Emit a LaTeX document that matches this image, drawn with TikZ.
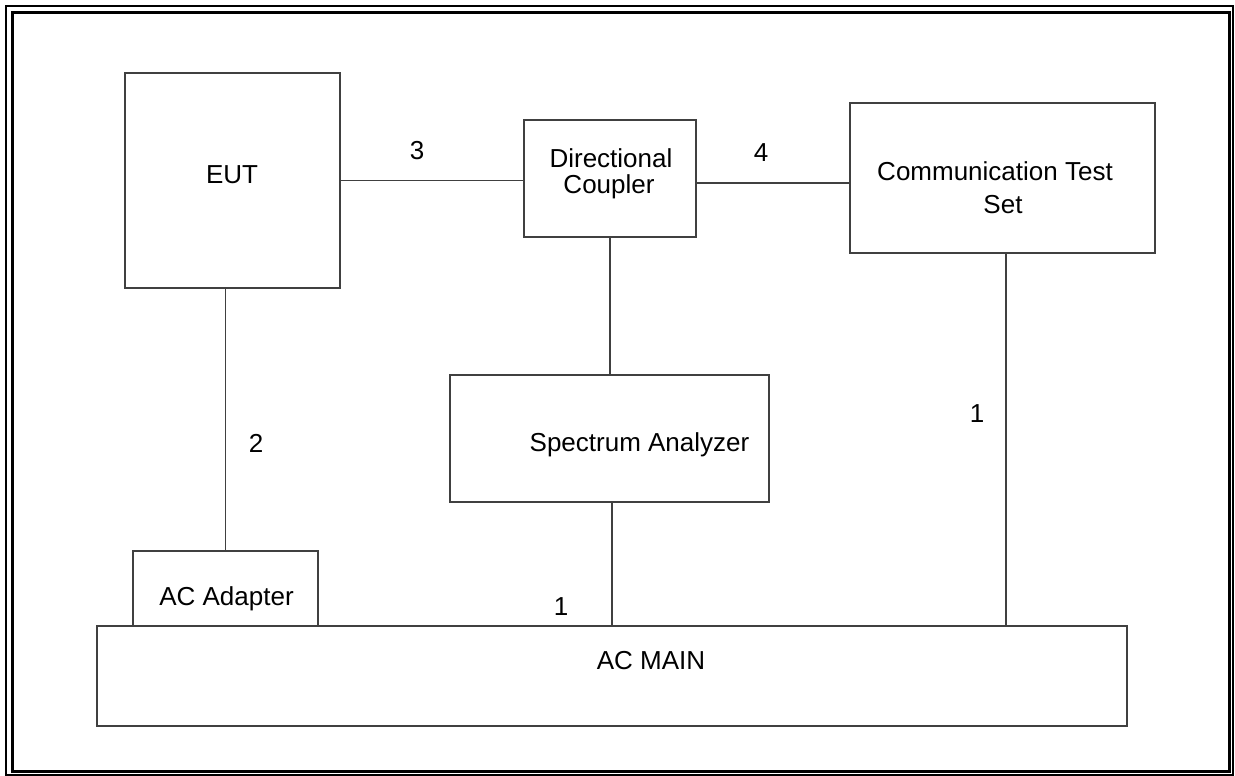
\documentclass[tikz,border=0pt]{standalone}
\usepackage{fontspec}
\setmainfont{Liberation Sans}
\begin{document}
\begin{tikzpicture}[x=1pt,y=-1pt,
  box/.style={draw=black!75, line width=1.3pt, inner sep=0pt, anchor=center},
  txt/.style={font=\fontsize{26}{30}\selectfont, inner sep=0pt, anchor=base},
  wire/.style={draw=black!75, line width=1.3pt}]
\useasboundingbox (0,0) rectangle (1235,776);
% page border
\draw[line width=2pt] (6,6) rectangle (1232.5,774.5);
\draw[line width=3pt] (12.5,12.5) rectangle (1229.5,771.5);
% boxes
\node[box, minimum width=215pt, minimum height=215pt] (eut) at (232.5,180.5) {};
\node[box, minimum width=172pt, minimum height=117pt] (dc) at (610,178.5) {};
\node[box, minimum width=305pt, minimum height=150pt] (cts) at (1002.5,178) {};
\node[box, minimum width=319pt, minimum height=127pt] (sa) at (609.5,438.5) {};
\node[box, minimum width=185pt, minimum height=75pt] (aca) at (225.5,588.5) {};
\node[box, minimum width=1030pt, minimum height=100pt] (acm) at (612,676) {};
% texts
\node[txt] (teut) at (232,183) {EUT};
\node[txt] (tdc1) at (611,167) {Directional};
\node[txt] (tdc2) at (609,193) {Coupler};
\node[txt] (tcts1) at (995,180) {Communication Test};
\node[txt] (tcts2) at (1003,213) {Set};
\node[txt] (tsa) at (639.5,451) {Spectrum Analyzer};
\node[txt] (taca) at (226.5,605) {AC Adapter};
\node[txt] (tacm) at (651,669) {AC MAIN};
% connectors
\draw[wire] (eut.east) -- (eut.east -| dc.west);
\draw[wire] ([yshift=-4.5pt]dc.east) -- ([yshift=-4.5pt]dc.east -| cts.west);
\draw[wire] (dc.south) -- (dc.south |- sa.north);
\draw[wire] (aca.north |- eut.south) -- (aca.north);
\draw[wire] ([xshift=2.5pt]sa.south) -- ([xshift=2.5pt]sa.south |- acm.north);
\draw[wire] ([xshift=3.5pt]cts.south) -- ([xshift=3.5pt]cts.south |- acm.north);
% cable labels
\node[txt] (l3) at (417,159) {3};
\node[txt] (l4) at (761,161) {4};
\node[txt] (l2) at (256,452) {2};
\node[txt] (l1a) at (561,615) {1};
\node[txt] (l1b) at (977,422) {1};
\end{tikzpicture}
\end{document}
